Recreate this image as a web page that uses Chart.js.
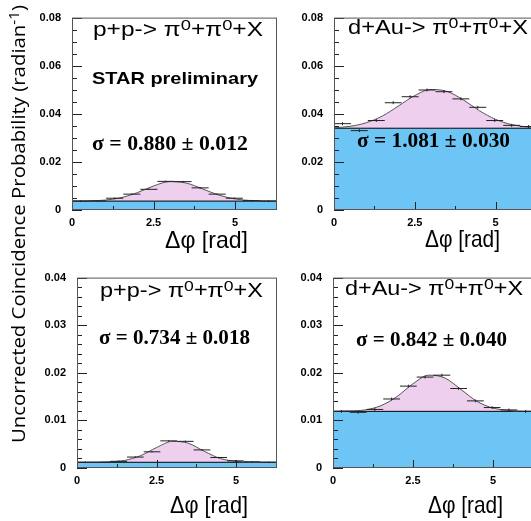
<!DOCTYPE html>
<html>
<head>
<meta charset="utf-8">
<script src="https://cdn.jsdelivr.net/npm/chart.js@4.4.1/dist/chart.umd.min.js"></script>
<style>
  html, body { margin: 0; padding: 0; background: #fff; width: 531px; height: 521px; overflow: hidden; position: relative; }
  canvas { position: absolute; }
  .t { position: absolute; white-space: nowrap; line-height: 1; transform-origin: 0 0; color: #000; z-index: 5; }
  .t sup { font-size: 0.75em; vertical-align: 0.4em; line-height: 0; }
</style>
</head>
<body>
<canvas id="c1"></canvas>
<canvas id="c2"></canvas>
<canvas id="c3"></canvas>
<canvas id="c4"></canvas>
<script>
// ---- data ----
const TWO_PI = 2 * Math.PI;
const nBins = 12;

// x where the fitted curves were read
const fitX = [0, 0.5, 1, 1.5, 2, 2.5, 3, 3.5, 4, 4.5, 5, 5.5, 6, 6.283];

// top left: p+p
const ppTopCounts = [0.0037, 0.0038, 0.0049, 0.0066, 0.0086, 0.0119, 0.0118, 0.0092, 0.0066, 0.0049, 0.0039, 0.0037];
const ppTopErrors = [0.0003, 0.0003, 0.0003, 0.0003, 0.0003, 0.0003, 0.0003, 0.0003, 0.0003, 0.0003, 0.0003, 0.0003];
const ppTopFit = [0.0037, 0.0038, 0.0041, 0.0051, 0.0072, 0.0100, 0.0118, 0.0112, 0.0088, 0.0062, 0.0046, 0.0039, 0.0037, 0.0037];
const ppTopBg = 0.0037;

// top right: d+Au
const dAuTopCounts = [0.0359, 0.0330, 0.0372, 0.0446, 0.0471, 0.0499, 0.0492, 0.0462, 0.0427, 0.0372, 0.0352, 0.0347];
const dAuTopErrors = [0.0006, 0.0006, 0.0006, 0.0006, 0.0006, 0.0006, 0.0006, 0.0006, 0.0006, 0.0006, 0.0006, 0.0006];
const dAuTopFit = [0.0342, 0.0348, 0.0363, 0.0391, 0.0433, 0.0476, 0.0501, 0.0493, 0.0458, 0.0413, 0.0377, 0.0355, 0.0345, 0.0342];
const dAuTopBg = 0.0340;

// bottom left: p+p
const ppBotCounts = [0.0012, 0.0012, 0.0014, 0.0023, 0.0034, 0.0057, 0.0056, 0.0038, 0.0022, 0.0015, 0.0013, 0.0012];
const ppBotErrors = [0.00015, 0.00015, 0.00015, 0.00015, 0.00015, 0.00015, 0.00015, 0.00015, 0.00015, 0.00015, 0.00015, 0.00015];
const ppBotFit = [0.0012, 0.0012, 0.0013, 0.0016, 0.0026, 0.0043, 0.0056, 0.0052, 0.0035, 0.0020, 0.0014, 0.0012, 0.0012, 0.0012];
const ppBotBg = 0.0012;

// bottom right: d+Au
const dAuBotCounts = [0.0119, 0.0117, 0.0123, 0.0145, 0.0172, 0.0191, 0.0195, 0.0167, 0.0141, 0.0127, 0.0122, 0.0119];
const dAuBotErrors = [0.0003, 0.0003, 0.0003, 0.0003, 0.0003, 0.0003, 0.0003, 0.0003, 0.0003, 0.0003, 0.0003, 0.0003];
const dAuBotFit = [0.0119, 0.0120, 0.0122, 0.0131, 0.0150, 0.0177, 0.0195, 0.0189, 0.0165, 0.0140, 0.0126, 0.0121, 0.0119, 0.0119];
const dAuBotBg = 0.0119;

// ticks
const xTickLabels = [0, 2.5, 5];
const xMinorTicks = [1.25, 3.75];
const yTopTicks = [0, 0.02, 0.04, 0.06, 0.08];
const yBotTicks = [0, 0.01, 0.02, 0.03, 0.04];

const BLUE = '#6cc5f4';
const PINK = '#efcfee';
const tickFont = { family: 'Liberation Sans, Arial, sans-serif', size: 11, weight: 'bold' };

// inside ticks + frame, ROOT style
const framePlugin = {
  id: 'frame',
  afterDatasetsDraw(chart, args, o) {
    const { ctx, chartArea: a, scales: { x, y } } = chart;
    ctx.save();
    ctx.strokeStyle = '#222';
    ctx.lineWidth = 1;
    ctx.beginPath();
    for (let v = 0; v <= o.yMax + 1e-9; v += o.yMinorStep) {
      const py = Math.round(y.getPixelForValue(v)) + 0.5;
      const major = o.yMajor.some(m => Math.abs(m - v) < 1e-9);
      ctx.moveTo(a.left, py);
      ctx.lineTo(a.left + (major ? 10 : 5), py);
    }
    xTickLabels.concat(xMinorTicks).forEach(v => {
      const px = Math.round(x.getPixelForValue(v)) + 0.5;
      const major = xTickLabels.includes(v);
      ctx.moveTo(px, a.bottom);
      ctx.lineTo(px, a.bottom - (major ? 8 : 4));
    });
    ctx.stroke();
    ctx.strokeStyle = '#555';
    ctx.strokeRect(a.left + 0.5, a.top + 0.5, a.right - a.left - 1, a.bottom - a.top - 1);
    ctx.restore();
  }
};

function makeChart(id, box, counts, errors, fit, bg, yMax, yMajor, yMinorStep) {
  const cv = document.getElementById(id);
  cv.width = box.w; cv.height = box.h;
  cv.style.left = box.left + 'px'; cv.style.top = box.top + 'px';
  cv.style.width = box.w + 'px'; cv.style.height = box.h + 'px';

  const bw = TWO_PI / nBins;
  const segs = [], errs = [];
  counts.forEach((v, i) => {
    const lo = i * bw, hi = (i + 1) * bw, mid = (i + 0.5) * bw;
    segs.push({ x: lo, y: v }, { x: hi, y: v }, { x: hi, y: null });
    errs.push({ x: mid, y: v - errors[i] }, { x: mid, y: v + errors[i] }, { x: mid, y: null });
  });

  new Chart(cv, {
    type: 'line',
    data: {
      datasets: [
        { data: errs, borderColor: '#222', borderWidth: 1, pointRadius: 0, spanGaps: false, fill: false, order: 1 },
        { data: segs, borderColor: '#222', borderWidth: 1, pointRadius: 0, spanGaps: false, fill: false, order: 2 },
        { data: fitX.map((x, i) => ({ x: x, y: fit[i] })), borderColor: '#555', borderWidth: 1, pointRadius: 0,
          cubicInterpolationMode: 'monotone', fill: { value: bg }, backgroundColor: PINK, order: 3 },
        { data: [{ x: 0, y: bg }, { x: TWO_PI, y: bg }], borderColor: '#000', borderWidth: 1, pointRadius: 0,
          fill: 'origin', backgroundColor: BLUE, order: 4 }
      ]
    },
    options: {
      responsive: false,
      animation: false,
      events: [],
      layout: { padding: { top: box.padTop, right: box.padRight, left: 0, bottom: 0 } },
      plugins: {
        legend: { display: false },
        tooltip: { enabled: false },
        filler: { drawTime: 'beforeDatasetsDraw' },
        frame: { yMax: yMax, yMajor: yMajor, yMinorStep: yMinorStep }
      },
      scales: {
        x: {
          type: 'linear', min: 0, max: TWO_PI,
          grid: { display: false, drawTicks: false },
          border: { display: false },
          ticks: { font: tickFont, color: '#000', padding: 6, maxRotation: 0, autoSkip: false,
                   callback: v => v === 0 ? '0' : String(v) },
          afterBuildTicks: s => { s.ticks = xTickLabels.map(v => ({ value: v })); },
          afterFit: s => { s.height = box.xh; }
        },
        y: {
          type: 'linear', min: 0, max: yMax,
          grid: { display: false, drawTicks: false },
          border: { display: false },
          ticks: { font: tickFont, color: '#000', padding: 11,
                   callback: v => v === 0 ? '0' : v.toFixed(2) },
          afterBuildTicks: s => { s.ticks = yMajor.map(v => ({ value: v })); },
          afterFit: s => { s.width = box.yw; }
        }
      }
    },
    plugins: [framePlugin]
  });
}

makeChart('c1', { left: 30, top: 0, w: 252, h: 255, yw: 42, xh: 45, padTop: 8, padRight: 5 },
  ppTopCounts, ppTopErrors, ppTopFit, ppTopBg, 0.08, yTopTicks, 0.005);
makeChart('c2', { left: 292, top: 0, w: 250, h: 255, yw: 42, xh: 45, padTop: 8, padRight: 5 },
  dAuTopCounts, dAuTopErrors, dAuTopFit, dAuTopBg, 0.08, yTopTicks, 0.005);
makeChart('c3', { left: 35, top: 260, w: 247, h: 261, yw: 42, xh: 53, padTop: 10, padRight: 5 },
  ppBotCounts, ppBotErrors, ppBotFit, ppBotBg, 0.04, yBotTicks, 0.002);
makeChart('c4', { left: 291, top: 260, w: 248, h: 261, yw: 42, xh: 53, padTop: 10, padRight: 5 },
  dAuBotCounts, dAuBotErrors, dAuBotFit, dAuBotBg, 0.04, yBotTicks, 0.002);

// ---- text ----
function label(html, x, baseline, width, font, rotate) {
  const d = document.createElement('div');
  d.className = 't';
  d.style.font = font;
  d.innerHTML = html + '<i style="display:inline-block;width:0;height:0"></i>';
  document.body.appendChild(d);
  const base = d.lastChild.offsetTop;
  const sx = width / d.getBoundingClientRect().width;
  if (rotate) {
    d.style.left = (baseline - base) + 'px';
    d.style.top = x + 'px';
    d.style.transform = 'rotate(-90deg) scaleX(' + sx + ')';
  } else {
    d.style.left = x + 'px';
    d.style.top = (baseline - base) + 'px';
    d.style.transform = 'scaleX(' + sx + ')';
  }
}

const SANS = 'Liberation Sans, Arial, sans-serif';
const SERIF = 'Liberation Serif, Times New Roman, serif';
const ppTitle = 'p+p-&gt; π<sup>0</sup>+π<sup>0</sup>+X';
const dAuTitle = 'd+Au-&gt; π<sup>0</sup>+π<sup>0</sup>+X';
const xTitle = 'Δφ&nbsp;[rad]';

label(ppTitle, 93, 36, 170, '20px ' + SANS);
label('STAR preliminary', 92, 84, 166, 'bold 17px ' + SANS);
label('σ = 0.880 ± 0.012', 92, 150, 156, 'bold 20px ' + SERIF);
label(xTitle, 165, 248, 83, '24px ' + SANS);

label(dAuTitle, 348, 33.5, 180, '20px ' + SANS);
label('σ = 1.081 ± 0.030', 357, 146.7, 153, 'bold 20px ' + SERIF);
label(xTitle, 425, 247, 75, '24px ' + SANS);

label(ppTitle, 100, 296.7, 163, '20px ' + SANS);
label('σ = 0.734 ± 0.018', 99, 343.5, 151, 'bold 20px ' + SERIF);
label(xTitle, 170, 513, 78, '24px ' + SANS);

label(dAuTitle, 345, 295, 178, '20px ' + SANS);
label('σ = 0.842 ± 0.040', 356, 345.5, 151, 'bold 20px ' + SERIF);
label(xTitle, 428, 513, 75, '24px ' + SANS);

label('Uncorrected Coincidence Probability (radian<sup>-1</sup>)', 443, 25, 438, '19px Open Sans, sans-serif', true);
</script>
</body>
</html>
